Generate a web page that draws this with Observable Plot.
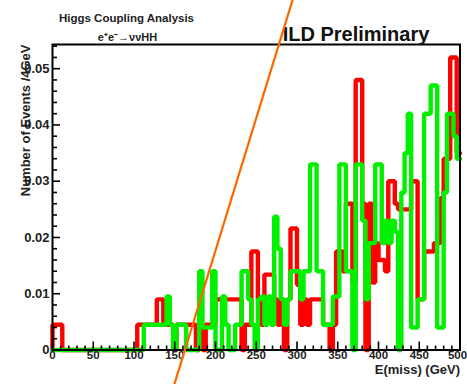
<!DOCTYPE html>
<html>
<head>
<meta charset="utf-8">
<script src="https://cdn.jsdelivr.net/npm/d3@7"></script>
<script src="https://cdn.jsdelivr.net/npm/@observablehq/plot@0.6"></script>
<style>
  html, body { margin: 0; padding: 0; background: #fff; }
  svg { display: block; }
</style>
</head>
<body>
<div id="chart"></div>
<script>
// ---- data ----
const binWidth = 4; // GeV
const redCounts = [
  0.0045,0.0045,0.0045,0,0,0,0,0,0,0,
  0,0,0,0,0,0,0,0,0,0,
  0,0,0,0,0,0,0.0045,0.0045,0.0045,0.0045,
  0.0045,0.0045,0.009,0.009,0.0045,0.0045,0.0045,0,0.0045,0.0045,
  0.0045,0.0045,0.0045,0.0045,0,0.0045,0,0.0045,0.0045,0.0045,
  0.009,0.009,0.009,0.009,0.009,0.009,0.009,0.009,0,0.0045,
  0.0045,0.0175,0.0175,0.009,0.0045,0.0134,0.0134,0.0134,0.009,0.0045,
  0.009,0,0.009,0.0216,0.0216,0.0116,0.0045,0.009,0.0045,0.009,
  0.009,0.009,0.009,0.0045,0.0045,0,0.0045,0.0175,0.0175,0.014,
  0.026,0.026,0.012,0.048,0.048,0.026,0,0.026,0.012,0.019,
  0.016,0.016,0.014,0.030,0.030,0.026,0.025,0.025,0.025,0.025,
  0.030,0.030,0.009,0.009,0.0175,0.0175,0.0175,0.019,0.019,0.027,
  0.034,0.034,0.052,0.052,0.035
];
const greenCounts = [
  0,0,0,0,0,0,0,0,0,0,
  0,0,0,0,0,0,0,0,0,0,
  0,0,0,0,0,0,0,0,0.0045,0.0045,
  0.0045,0.0045,0.0045,0.0045,0.0045,0.0095,0.0045,0,0.0045,0.0045,
  0.0045,0,0,0,0,0.014,0.004,0.004,0.004,0.014,
  0,0,0.0095,0.0045,0,0,0.0045,0.0045,0.014,0.014,
  0.009,0.0045,0,0.009,0.0095,0.0045,0.0095,0.0045,0.0237,0.018,
  0.009,0.0045,0.009,0.014,0.014,0.014,0.009,0.014,0.014,0.033,
  0.033,0.014,0.014,0.0045,0.0045,0.0045,0.0095,0.0095,0.033,0.033,
  0.014,0.014,0,0.033,0.033,0.023,0.009,0.019,0.019,0.033,
  0.033,0.019,0.023,0.019,0.023,0.021,0,0.028,0.035,0.042,
  0.004,0.004,0.009,0.009,0.042,0.042,0.047,0.047,0.004,0.004,
  0.028,0.042,0.042,0.038,0.034
];
const xMajorTicks = [0, 50, 100, 150, 200, 250, 300, 350, 400, 450, 500];
const xTickLabels = ["0", "50", "100", "150", "200", "250", "300", "350", "400", "450", "500"];
const xMinorTicks = [10,20,30,40,60,70,80,90,110,120,130,140,160,170,180,190,210,220,230,240,260,270,280,290,310,320,330,340,360,370,380,390,410,420,430,440,460,470,480,490];
const yMajorTicks = [0, 0.01, 0.02, 0.03, 0.04, 0.05];
const yTickLabels = ["0", "0.01", "0.02", "0.03", "0.04", "0.05"];
const yMinorTicks = [0.002,0.004,0.006,0.008,0.012,0.014,0.016,0.018,0.022,0.024,0.026,0.028,0.032,0.034,0.036,0.038,0.042,0.044,0.046,0.048,0.052,0.054];
const annotationLine = [ {E: 294.5, v: 0.0622}, {E: 149.3, v: -0.0062} ];
const titleText = "Higgs Coupling Analysis";
const processText = "e\u207Ae\u207B\u2192\u03BD\u03BDHH";
const labelText = "ILD Preliminary";
const xTitle = "E(miss) (GeV)";
const yTitle = "Number of Events /4GeV";

// ---- build step outlines ----
function steps(vals) {
  const pts = [{x: 0, y: 0}];
  vals.forEach((v, i) => pts.push({x: i * binWidth, y: v}));
  pts.push({x: vals.length * binWidth, y: vals[vals.length - 1]});
  return pts;
}
const redSteps = steps(redCounts);
const greenSteps = steps(greenCounts);

// ---- layout ----
const W = 467, H = 384;
const mL = 52, mR = 7.5, mT = 44, mB = 34.5;
const fw = W - mL - mR, fh = H - mT - mB;
const font = "'Liberation Sans', Arial, Helvetica, sans-serif";

const xLab = xMajorTicks.map((t, i) => ({t, s: xTickLabels[i], shift: t === 500 ? -3 : 0}));
const yLab = yMajorTicks.map((t, i) => ({t, s: yTickLabels[i]}));

const chart = Plot.plot({
  width: W, height: H,
  marginLeft: mL, marginRight: mR, marginTop: mT, marginBottom: mB,
  style: {fontFamily: font, background: "#fff", overflow: "visible"},
  x: {domain: [0, 500], axis: null},
  y: {domain: [0, 0.0543], axis: null},
  marks: [
    // histograms
    Plot.line(redSteps, {x: "x", y: "y", curve: "step-after", stroke: "#ff0000", strokeWidth: 4.4, strokeLinejoin: "miter"}),
    Plot.line(greenSteps, {x: "x", y: "y", curve: "step-after", stroke: "#00f000", strokeWidth: 4.4, strokeLinejoin: "miter"}),
    // ticks inside frame
    Plot.tickX(xMajorTicks, {x: d => d, insetTop: fh - 8, stroke: "#000", strokeWidth: 1.6}),
    Plot.tickX(xMinorTicks, {x: d => d, insetTop: fh - 4, stroke: "#000", strokeWidth: 1.6}),
    Plot.tickY(yMajorTicks, {y: d => d, insetRight: fw - 8, stroke: "#000", strokeWidth: 1.6}),
    Plot.tickY(yMinorTicks, {y: d => d, insetRight: fw - 5, stroke: "#000", strokeWidth: 1.6}),
    Plot.frame({stroke: "#000", strokeWidth: 2}),
    // tick labels
    Plot.text(xLab.filter(d => d.t !== 500), {x: "t", text: "s", frameAnchor: "bottom", dy: 9, fontSize: 11.5, fontWeight: "bold", fill: "#222"}),
    Plot.text(xLab.filter(d => d.t === 500), {x: "t", text: "s", frameAnchor: "bottom", dy: 9, dx: -2.5, fontSize: 11.5, fontWeight: "bold", fill: "#222"}),
    Plot.text(yLab, {y: "t", text: "s", frameAnchor: "left", textAnchor: "end", dx: -3, fontSize: 13, fontWeight: "bold", fill: "#222"}),
    // axis titles
    Plot.text([xTitle], {text: d => d, frameAnchor: "bottom-right", textAnchor: "end", dy: 24, dx: 0, fontSize: 13, fontWeight: "bold", fill: "#222"}),
    Plot.text([yTitle], {text: d => d, frameAnchor: "top-left", textAnchor: "end", rotate: -90, dx: -32, dy: 0, fontSize: 13, fontWeight: "bold", fill: "#222"}),
    // headers
    Plot.text([titleText], {text: d => d, frameAnchor: "top-left", textAnchor: "middle", dx: 74, dy: -31, fontSize: 11.5, fontWeight: "bold", fill: "#222"}),
    Plot.text([processText], {text: d => d, frameAnchor: "top-left", textAnchor: "middle", dx: 75, dy: -11, fontSize: 11, fontWeight: "bold", fill: "#222"}),
    Plot.text([labelText], {text: d => d, frameAnchor: "top-left", textAnchor: "middle", dx: 303.5, dy: -18, fontSize: 20, fontWeight: "bold", fill: "#111"}),
    // orange annotation stroke
    Plot.line(annotationLine, {x: "E", y: "v", stroke: "#ff6600", strokeWidth: 2.2})
  ]
});
document.getElementById("chart").appendChild(chart);
</script>
</body>
</html>
